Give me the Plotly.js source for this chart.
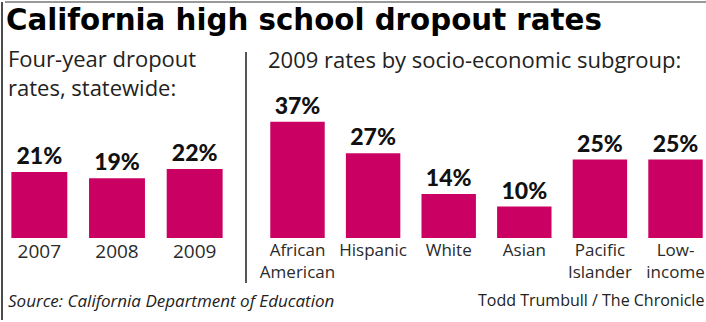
<!DOCTYPE html>
<html>
<head>
<meta charset="utf-8">
<script src="https://cdn.plot.ly/plotly-3.0.1.min.js"></script>
<style>html,body{margin:0;padding:0;background:#fff;}#chart{width:706px;height:322px;}</style>
</head>
<body>
<div id="chart"></div>
<script>
// Data
const years = ["2007", "2008", "2009"];
const yearRates = [21, 19, 22];
const groups = ["African<br>American", "Hispanic", "White", "Asian", "Pacific<br>Islander", "Low-<br>income"];
const groupRates = [37, 27, 14, 10, 25, 25];

const W = 706, H = 322;
const px = x => x / W;
const py = y => 1 - y / H;
const barColor = "#CB0063";
const labelFont = {family: "Open Sans, sans-serif", size: 17, color: "#2a2a2a"};
const yearFont = {family: "Open Sans, sans-serif", size: 19, color: "#2a2a2a"};
const valueFont = {family: "Lato, sans-serif", size: 23, color: "#111", weight: 900};

const traces = [
  {
    type: "bar", x: years, y: yearRates, xaxis: "x", yaxis: "y",
    marker: {color: barColor},
    text: yearRates.map(v => v + "%"), textposition: "outside",
    textfont: valueFont, cliponaxis: false, hoverinfo: "skip"
  },
  {
    type: "bar", x: groups, y: groupRates, xaxis: "x2", yaxis: "y2",
    marker: {color: barColor},
    text: groupRates.map(v => v + "%"), textposition: "outside",
    textfont: valueFont, cliponaxis: false, hoverinfo: "skip"
  }
];

const yBottom = 238, yTop = 238 - 40 * 3.14;
const rightStep = 75.6;
const layout = {
  width: W, height: H,
  margin: {l: 0, r: 0, t: 0, b: 0},
  paper_bgcolor: "#fff", plot_bgcolor: "rgba(0,0,0,0)",
  showlegend: false,
  bargap: 0.28,
  xaxis: {type: "category", domain: [px(0.5), px(233.5)], range: [-0.5, 2.5], showgrid: false, zeroline: false, showline: false, ticks: "", tickfont: yearFont, fixedrange: true},
  yaxis: {domain: [py(yBottom), py(yTop)], range: [0, 40], visible: false, fixedrange: true},
  xaxis2: {type: "category", domain: [px(297.5 - rightStep / 2), 1], range: [-0.5, (706 - 297.5) / rightStep - 0.0001], showgrid: false, zeroline: false, showline: false, ticks: "", tickfont: labelFont, fixedrange: true, anchor: "y2"},
  yaxis2: {domain: [py(yBottom), py(yTop)], range: [0, 40], visible: false, fixedrange: true, anchor: "x2"},
  shapes: [
    {type: "line", xref: "paper", yref: "paper", x0: px(5), x1: 1, y0: py(2), y1: py(2), line: {color: "#777", width: 1.5}},
    {type: "line", xref: "paper", yref: "paper", x0: px(2), x1: px(2), y0: py(2), y1: py(320), line: {color: "#111", width: 1.5}},
    {type: "line", xref: "paper", yref: "paper", x0: px(246), x1: px(246), y0: py(52), y1: py(283), line: {color: "#555", width: 2}}
  ],
  annotations: [
    {text: "California high school dropout rates", xref: "paper", yref: "paper", x: px(4), y: py(20), xanchor: "left", yanchor: "middle", showarrow: false, font: {family: "DejaVu Sans, sans-serif", size: 29.3, color: "#000", weight: 700}},
    {text: "Four-year dropout<br>rates, statewide:", xref: "paper", yref: "paper", x: px(6), y: py(72), xanchor: "left", yanchor: "middle", align: "left", showarrow: false, font: {family: "Open Sans, sans-serif", size: 22, color: "#222"}},
    {text: "2009 rates by socio-economic subgroup:", xref: "paper", yref: "paper", x: px(266), y: py(59), xanchor: "left", yanchor: "middle", showarrow: false, font: {family: "Open Sans, sans-serif", size: 22, color: "#222"}},
    {text: "<i>Source: California Department of Education</i>", xref: "paper", yref: "paper", x: px(6), y: py(300), xanchor: "left", yanchor: "middle", showarrow: false, font: {family: "Open Sans, sans-serif", size: 17, color: "#222"}},
    {text: "Todd Trumbull / The Chronicle", xref: "paper", yref: "paper", x: px(476), y: py(300), xanchor: "left", yanchor: "middle", showarrow: false, font: {family: "Open Sans, sans-serif", size: 16, color: "#222"}}
  ]
};

Plotly.newPlot("chart", traces, layout, {displayModeBar: false, staticPlot: true});
</script>
</body>
</html>
